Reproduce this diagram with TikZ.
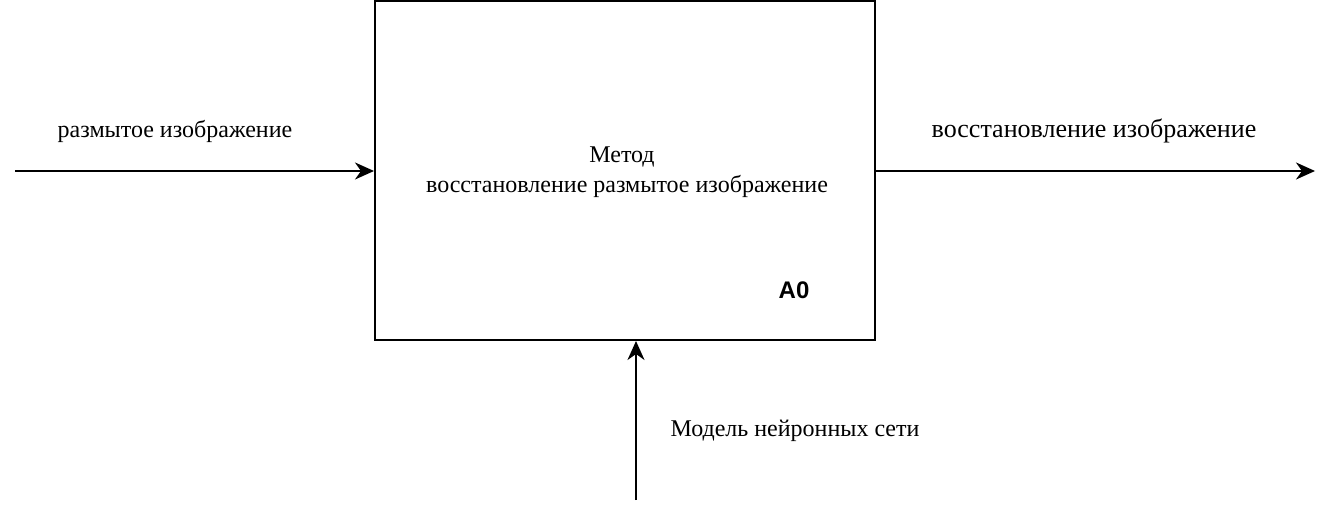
\documentclass[tikz,border=0pt]{standalone}
\usepackage{fontspec}
\setmainfont{Liberation Serif}
\newfontfamily\labsans{Liberation Sans}
\usetikzlibrary{arrows.meta}
\begin{document}
\begin{tikzpicture}[x=1pt,y=-1pt,
  conn/.style={line width=2pt,-{Stealth[length=19pt,width=17pt,inset=6pt]}},
  lbl/.style={font=\fontsize{24}{28}\selectfont,inner sep=0pt},
  tag/.style={font=\labsans\bfseries\fontsize{24}{28}\selectfont,inner sep=0pt}]
\useasboundingbox (0,0) rectangle (1332,518);
\node[draw,line width=2pt,minimum width=500pt,minimum height=339pt,inner sep=0pt] (box) at (625,170.5) {};
\node[lbl,align=center] (title) at (627,172) {Метод\hspace*{10pt}\\[2pt]восстановление размытое изображение};
\node[tag] (a0) at (794,290) {A0};
\coordinate (src) at (15,171);
\coordinate (dst) at (1315,171);
\coordinate (ctl) at (636,500);
\draw[conn] (src) -- (box.west |- src);
\draw[conn] (box.east |- dst) -- (dst);
\draw[conn] (ctl) -- (ctl |- box.south);
\node[lbl] (inl) at (175,131) {размытое изображение};
\node[lbl,font=\fontsize{26}{30}\selectfont] (outl) at (1094,131) {восстановление изображение};
\node[lbl] (ctll) at (795,431) {Модель нейронных сети};
\end{tikzpicture}
\end{document}
